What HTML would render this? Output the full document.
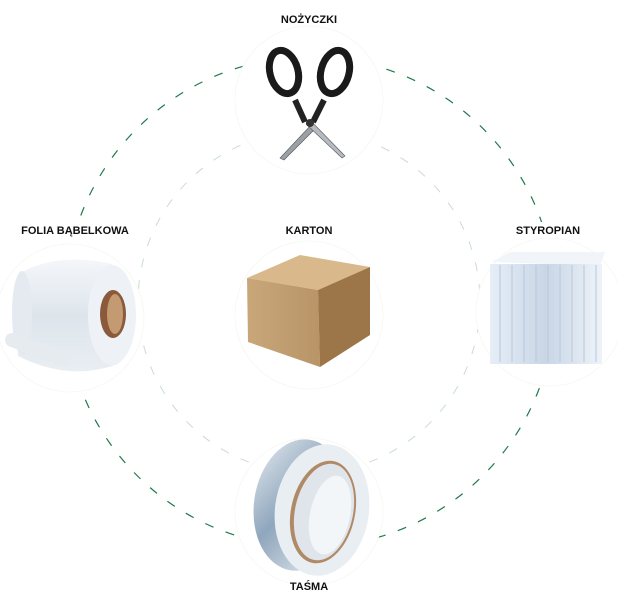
<!DOCTYPE html>
<html><head><meta charset="utf-8"><style>
html,body{margin:0;padding:0;background:#fff;width:618px;height:605px;overflow:hidden}
text{font-family:"Liberation Sans",sans-serif;font-weight:bold;font-size:11px;fill:#111}
</style></head><body>
<svg width="618" height="605" viewBox="0 0 618 605">
<defs>
<linearGradient id="bub" x1="0" y1="0" x2="0" y2="1"><stop offset="0" stop-color="#f4f7fa"/><stop offset="0.5" stop-color="#dde5ec"/><stop offset="1" stop-color="#e9eef3"/></linearGradient>
<linearGradient id="box1" x1="0" y1="0" x2="1" y2="0"><stop offset="0" stop-color="#c9a77a"/><stop offset="1" stop-color="#b89467"/></linearGradient>
<linearGradient id="sty" x1="0" y1="0" x2="1" y2="0"><stop offset="0" stop-color="#e6eef7"/><stop offset="0.5" stop-color="#c8d6e6"/><stop offset="1" stop-color="#eef3f9"/></linearGradient>
<linearGradient id="tape" x1="0" y1="0" x2="1" y2="1"><stop offset="0" stop-color="#e4eaf0"/><stop offset="0.45" stop-color="#8fa6bc"/><stop offset="1" stop-color="#eef2f6"/></linearGradient>
</defs>
<circle cx="310" cy="302" r="245" fill="none" stroke="#1f7a4a" stroke-width="1.2" stroke-dasharray="9 13"/>
<circle cx="309" cy="302" r="171" fill="none" stroke="#c9dcd3" stroke-width="1" stroke-dasharray="9 13"/>
<g fill="#fff" stroke="#f8f8f2" stroke-width="1">
<circle cx="309" cy="100" r="74"/>
<circle cx="70" cy="318" r="74"/>
<circle cx="309" cy="315" r="74"/>
<circle cx="550" cy="312" r="74"/>
<circle cx="309" cy="512" r="74"/>
</g>
<rect x="10" y="222" width="130" height="16" fill="#fff"/>
<rect x="500" y="222" width="100" height="16" fill="#fff"/>
<text x="309" y="23" text-anchor="middle">NOŻYCZKI</text>
<text x="75" y="234" text-anchor="middle">FOLIA BĄBELKOWA</text>
<text x="309" y="234" text-anchor="middle">KARTON</text>
<text x="548" y="234" text-anchor="middle">STYROPIAN</text>
<text x="309" y="590" text-anchor="middle">TAŚMA</text>
<!-- scissors -->
<g>
<polygon points="312,124 280,158 284,160 316,128" fill="#9aa0a6" stroke="#555" stroke-width="0.6"/>
<polygon points="306,124 342,158 345,156 310,120" fill="#b5bbc0" stroke="#555" stroke-width="0.6"/>
<path d="M305,122 L295,100" stroke="#222" stroke-width="6"/>
<path d="M313,122 L324,100" stroke="#222" stroke-width="6"/>
<ellipse cx="284" cy="72" rx="14" ry="22" transform="rotate(-15 284 72)" fill="none" stroke="#1a1a1a" stroke-width="7"/>
<ellipse cx="335" cy="72" rx="14" ry="22" transform="rotate(15 335 72)" fill="none" stroke="#1a1a1a" stroke-width="7"/>
<circle cx="310" cy="123" r="4" fill="#333"/>
</g>
<!-- bubble roll -->
<g>
<path d="M22,272 Q60,252 112,264 L118,364 Q70,382 18,356 Z" fill="url(#bub)"/>
<ellipse cx="22" cy="313" rx="10" ry="42" fill="#e4eaf0"/>
<ellipse cx="112" cy="315" rx="24" ry="50" fill="#eef2f6"/>
<ellipse cx="113" cy="314" rx="13" ry="24" fill="#8a5a3a"/>
<ellipse cx="115" cy="314" rx="8" ry="20" fill="#c49a72"/>
<path d="M12,340 L64,360" stroke="#e6ebf0" stroke-width="14" stroke-linecap="round"/>
</g>
<!-- box -->
<g>
<polygon points="247,278 300,255 370,267 318,290" fill="#d9b98c"/>
<polygon points="247,278 318,290 320,367 248,342" fill="url(#box1)"/>
<polygon points="318,290 370,267 370,335 320,367" fill="#9c7548"/>
</g>
<!-- styrofoam -->
<g>
<polygon points="492,262 510,252 605,252 600,266" fill="#f1f5fa"/>
<rect x="490" y="264" width="112" height="100" fill="url(#sty)"/>
<g stroke="#b9c7d8" stroke-width="1">
<line x1="500" y1="265" x2="500" y2="362"/><line x1="512" y1="265" x2="512" y2="362"/><line x1="524" y1="265" x2="524" y2="362"/><line x1="536" y1="265" x2="536" y2="362"/><line x1="548" y1="265" x2="548" y2="362"/><line x1="560" y1="265" x2="560" y2="362"/><line x1="572" y1="265" x2="572" y2="362"/><line x1="584" y1="265" x2="584" y2="362"/><line x1="596" y1="265" x2="596" y2="362"/>
</g>
</g>
<!-- tape -->
<g>
<ellipse cx="300" cy="505" rx="46" ry="66" transform="rotate(8 300 505)" fill="url(#tape)"/>
<ellipse cx="322" cy="510" rx="47" ry="66" transform="rotate(8 322 510)" fill="#e9eef3"/>
<ellipse cx="323" cy="512" rx="32" ry="52" transform="rotate(12 323 512)" fill="#b08a66"/>
<ellipse cx="324" cy="512" rx="29" ry="49" transform="rotate(12 324 512)" fill="#dfe5eb"/>
<ellipse cx="330" cy="515" rx="20" ry="40" transform="rotate(12 330 515)" fill="#f3f6f9"/>
</g>
</svg>
</body></html>
